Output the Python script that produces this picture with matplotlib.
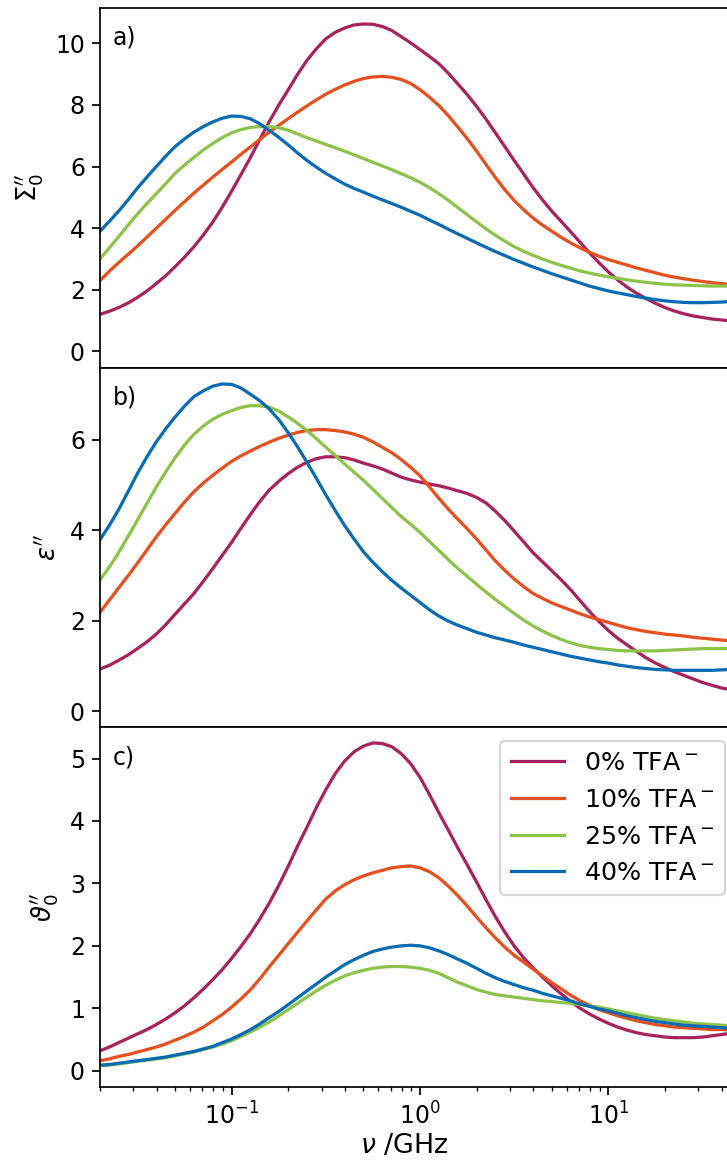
import numpy as np
import matplotlib
matplotlib.use('Agg')
import matplotlib.pyplot as plt

plt.rcParams['font.size'] = 11

# frequency grid (GHz), 20 points per decade
nu = [0.0200, 0.0224, 0.0251, 0.0282, 0.0316, 0.0355, 0.0398, 0.0447, 0.0501, 0.0562,
      0.0631, 0.0708, 0.0794, 0.0891, 0.100, 0.112, 0.126, 0.141, 0.158, 0.178,
      0.200, 0.224, 0.251, 0.282, 0.316, 0.355, 0.398, 0.447, 0.501, 0.562,
      0.631, 0.708, 0.794, 0.891, 1.00, 1.12, 1.26, 1.41, 1.58, 1.78,
      2.00, 2.24, 2.51, 2.82, 3.16, 3.55, 3.98, 4.47, 5.01, 5.62,
      6.31, 7.08, 7.94, 8.91, 10.0, 11.2, 12.6, 14.1, 15.8, 17.8,
      20.0, 22.4, 25.1, 28.2, 31.6, 35.5, 39.8, 44.7, 50.1]

labels = [r'0% TFA$^-$', r'10% TFA$^-$', r'25% TFA$^-$', r'40% TFA$^-$']
colors = ['#A8235E', '#E6501E', '#8CC34A', '#0A6BB5']

# a) Sigma_0''
sig_0 = [1.20, 1.30, 1.42, 1.57, 1.75, 1.96, 2.20, 2.46, 2.75, 3.06,
         3.40, 3.78, 4.20, 4.68, 5.20, 5.74, 6.30, 6.88, 7.45, 8.00,
         8.50, 9.00, 9.45, 9.83, 10.15, 10.36, 10.50, 10.60, 10.63, 10.62,
         10.55, 10.42, 10.22, 10.02, 9.80, 9.58, 9.34, 9.04, 8.70, 8.34,
         7.95, 7.54, 7.10, 6.65, 6.20, 5.76, 5.32, 4.92, 4.55, 4.22,
         3.88, 3.54, 3.20, 2.88, 2.58, 2.32, 2.08, 1.89, 1.72, 1.56,
         1.42, 1.31, 1.22, 1.15, 1.10, 1.05, 1.02, 0.99, 0.97]
sig_10 = [2.30, 2.60, 2.88, 3.15, 3.42, 3.71, 4.00, 4.29, 4.58, 4.86,
          5.14, 5.40, 5.66, 5.91, 6.15, 6.40, 6.64, 6.88, 7.12, 7.34,
          7.56, 7.77, 7.97, 8.17, 8.35, 8.51, 8.65, 8.77, 8.86, 8.91,
          8.93, 8.90, 8.83, 8.70, 8.50, 8.26, 7.98, 7.66, 7.30, 6.91,
          6.50, 6.07, 5.65, 5.25, 4.90, 4.60, 4.33, 4.10, 3.90, 3.70,
          3.52, 3.36, 3.22, 3.09, 2.98, 2.89, 2.80, 2.71, 2.63, 2.55,
          2.47, 2.41, 2.36, 2.31, 2.27, 2.23, 2.20, 2.17, 2.15]
sig_25 = [3.00, 3.36, 3.72, 4.10, 4.46, 4.80, 5.12, 5.45, 5.78, 6.05,
          6.30, 6.54, 6.75, 6.94, 7.10, 7.20, 7.27, 7.30, 7.30, 7.26,
          7.18, 7.06, 6.94, 6.83, 6.72, 6.61, 6.50, 6.38, 6.26, 6.14,
          6.02, 5.90, 5.77, 5.64, 5.49, 5.32, 5.12, 4.91, 4.68, 4.44,
          4.20, 3.98, 3.77, 3.58, 3.40, 3.25, 3.12, 3.00, 2.89, 2.79,
          2.70, 2.61, 2.54, 2.48, 2.42, 2.37, 2.32, 2.28, 2.24, 2.21,
          2.18, 2.16, 2.15, 2.14, 2.13, 2.12, 2.12, 2.12, 2.12]
sig_40 = [3.90, 4.22, 4.55, 4.92, 5.30, 5.66, 6.00, 6.34, 6.65, 6.90,
          7.12, 7.30, 7.45, 7.57, 7.64, 7.63, 7.55, 7.39, 7.18, 6.95,
          6.70, 6.44, 6.20, 5.98, 5.78, 5.60, 5.43, 5.29, 5.17, 5.04,
          4.92, 4.80, 4.68, 4.55, 4.42, 4.27, 4.12, 3.97, 3.82, 3.67,
          3.52, 3.38, 3.24, 3.11, 2.98, 2.86, 2.74, 2.63, 2.52, 2.42,
          2.32, 2.22, 2.12, 2.04, 1.96, 1.90, 1.84, 1.78, 1.73, 1.68,
          1.64, 1.61, 1.59, 1.58, 1.58, 1.59, 1.60, 1.62, 1.63]

# b) epsilon''
eps_0 = [0.93, 1.01, 1.12, 1.24, 1.38, 1.53, 1.70, 1.91, 2.14, 2.37,
         2.60, 2.87, 3.15, 3.44, 3.73, 4.04, 4.35, 4.63, 4.88, 5.08,
         5.25, 5.39, 5.50, 5.58, 5.62, 5.62, 5.60, 5.55, 5.48, 5.42,
         5.35, 5.26, 5.17, 5.11, 5.06, 5.02, 4.98, 4.93, 4.87, 4.81,
         4.72, 4.60, 4.42, 4.21, 3.98, 3.74, 3.50, 3.30, 3.10, 2.90,
         2.68, 2.44, 2.20, 1.98, 1.78, 1.61, 1.46, 1.32, 1.18, 1.06,
         0.96, 0.87, 0.79, 0.71, 0.63, 0.57, 0.51, 0.47, 0.43]
eps_10 = [2.18, 2.45, 2.72, 2.99, 3.27, 3.56, 3.85, 4.12, 4.37, 4.62,
          4.85, 5.04, 5.21, 5.37, 5.52, 5.64, 5.75, 5.85, 5.94, 6.03,
          6.10, 6.16, 6.20, 6.22, 6.22, 6.20, 6.17, 6.12, 6.05, 5.95,
          5.83, 5.71, 5.56, 5.39, 5.20, 4.96, 4.70, 4.47, 4.25, 4.03,
          3.80, 3.56, 3.32, 3.11, 2.92, 2.75, 2.60, 2.49, 2.39, 2.31,
          2.23, 2.15, 2.08, 2.02, 1.96, 1.90, 1.84, 1.80, 1.76, 1.73,
          1.70, 1.68, 1.66, 1.63, 1.61, 1.59, 1.57, 1.55, 1.53]
eps_25 = [2.90, 3.18, 3.50, 3.86, 4.22, 4.59, 4.95, 5.29, 5.60, 5.88,
          6.12, 6.30, 6.45, 6.56, 6.64, 6.71, 6.75, 6.75, 6.72, 6.63,
          6.50, 6.36, 6.20, 6.02, 5.83, 5.65, 5.46, 5.28, 5.10, 4.90,
          4.70, 4.50, 4.30, 4.13, 3.95, 3.75, 3.55, 3.35, 3.16, 2.98,
          2.80, 2.63, 2.47, 2.31, 2.16, 2.01, 1.88, 1.77, 1.67, 1.58,
          1.51, 1.45, 1.41, 1.38, 1.36, 1.34, 1.33, 1.33, 1.33, 1.33,
          1.34, 1.35, 1.36, 1.37, 1.38, 1.38, 1.38, 1.38, 1.38]
eps_40 = [3.79, 4.10, 4.45, 4.85, 5.25, 5.62, 5.95, 6.24, 6.50, 6.74,
          6.95, 7.08, 7.18, 7.23, 7.22, 7.14, 7.00, 6.86, 6.68, 6.44,
          6.15, 5.84, 5.50, 5.14, 4.78, 4.43, 4.10, 3.80, 3.52, 3.29,
          3.08, 2.89, 2.72, 2.56, 2.40, 2.24, 2.10, 1.99, 1.90, 1.82,
          1.74, 1.68, 1.62, 1.57, 1.52, 1.46, 1.41, 1.36, 1.31, 1.26,
          1.21, 1.17, 1.13, 1.09, 1.06, 1.02, 0.99, 0.96, 0.94, 0.92,
          0.91, 0.90, 0.90, 0.90, 0.90, 0.90, 0.91, 0.92, 0.93]

# c) theta_0''
th_0 = [0.32, 0.38, 0.45, 0.52, 0.59, 0.66, 0.74, 0.83, 0.93, 1.04,
        1.17, 1.31, 1.46, 1.62, 1.80, 1.99, 2.20, 2.43, 2.68, 2.97,
        3.28, 3.60, 3.90, 4.22, 4.50, 4.76, 4.96, 5.11, 5.20, 5.25,
        5.24, 5.19, 5.08, 4.92, 4.70, 4.43, 4.13, 3.86, 3.58, 3.30,
        3.02, 2.74, 2.47, 2.22, 2.00, 1.81, 1.65, 1.50, 1.36, 1.23,
        1.11, 1.00, 0.91, 0.83, 0.76, 0.70, 0.65, 0.61, 0.58, 0.56,
        0.54, 0.53, 0.53, 0.53, 0.54, 0.56, 0.58, 0.60, 0.63]
th_10 = [0.16, 0.19, 0.23, 0.26, 0.30, 0.34, 0.38, 0.43, 0.49, 0.55,
         0.62, 0.70, 0.80, 0.90, 1.02, 1.15, 1.30, 1.47, 1.66, 1.85,
         2.04, 2.22, 2.40, 2.58, 2.75, 2.88, 2.98, 3.06, 3.12, 3.17,
         3.21, 3.25, 3.27, 3.28, 3.25, 3.19, 3.09, 2.96, 2.81, 2.64,
         2.46, 2.29, 2.13, 1.98, 1.85, 1.74, 1.63, 1.52, 1.41, 1.31,
         1.21, 1.12, 1.05, 0.98, 0.93, 0.88, 0.84, 0.80, 0.77, 0.74,
         0.72, 0.70, 0.69, 0.68, 0.67, 0.66, 0.66, 0.65, 0.65]
th_25 = [0.08, 0.09, 0.11, 0.13, 0.15, 0.17, 0.19, 0.21, 0.24, 0.27,
         0.30, 0.34, 0.38, 0.43, 0.48, 0.55, 0.62, 0.70, 0.78, 0.88,
         0.98, 1.08, 1.18, 1.28, 1.37, 1.45, 1.52, 1.57, 1.61, 1.64,
         1.66, 1.67, 1.67, 1.66, 1.64, 1.61, 1.56, 1.49, 1.42, 1.36,
         1.30, 1.26, 1.22, 1.20, 1.18, 1.16, 1.14, 1.12, 1.11, 1.09,
         1.08, 1.06, 1.04, 1.02, 0.99, 0.96, 0.93, 0.90, 0.87, 0.84,
         0.82, 0.80, 0.78, 0.76, 0.75, 0.74, 0.73, 0.72, 0.71]
th_40 = [0.09, 0.10, 0.12, 0.14, 0.16, 0.18, 0.20, 0.22, 0.25, 0.28,
         0.31, 0.35, 0.39, 0.45, 0.51, 0.58, 0.66, 0.75, 0.85, 0.95,
         1.06, 1.17, 1.28, 1.39, 1.50, 1.60, 1.70, 1.78, 1.85, 1.91,
         1.95, 1.98, 2.00, 2.01, 2.00, 1.97, 1.92, 1.86, 1.79, 1.72,
         1.64, 1.56, 1.49, 1.43, 1.38, 1.33, 1.29, 1.24, 1.20, 1.16,
         1.12, 1.07, 1.03, 0.99, 0.96, 0.92, 0.88, 0.85, 0.82, 0.79,
         0.77, 0.75, 0.73, 0.72, 0.71, 0.70, 0.69, 0.68, 0.68]

panels = [
    (r"$\Sigma_0''$", [sig_0, sig_10, sig_25, sig_40], (-0.53, 11.15), [0, 2, 4, 6, 8, 10], 'a)'),
    (r"$\epsilon''$", [eps_0, eps_10, eps_25, eps_40], (-0.36, 7.59), [0, 2, 4, 6], 'b)'),
    (r"$\vartheta_0''$", [th_0, th_10, th_25, th_40], (-0.26, 5.50), [0, 1, 2, 3, 4, 5], 'c)'),
]

dpi = 155
fig = plt.figure(figsize=(728 / dpi, 1160 / dpi), dpi=dpi)

left = 100 / 728
width = 640 / 728
bottom = 1 - 1087 / 1160
h = (1087 - 8) / 1160 / 3

axes = []
for i, (ylab, series, ylim, yticks, tag) in enumerate(panels):
    ax = fig.add_axes([left, bottom + (2 - i) * h, width, h])
    for y, c, lab in zip(series, colors, labels):
        ax.plot(nu, y, color=c, lw=1.5, label=lab)
    ax.set_xscale('log')
    ax.set_xlim(0.02, 50)
    ax.set_ylim(*ylim)
    ax.set_yticks(yticks)
    ax.set_ylabel(ylab, fontsize=12)
    ax.text(0.02, 0.95, tag, transform=ax.transAxes, va='top', ha='left')
    if i < 2:
        ax.tick_params(axis='x', which='both', bottom=False, labelbottom=False)
    axes.append(ax)

axes[2].set_xlabel(r'$\nu$ /GHz', fontsize=12.5)
axes[2].xaxis.set_label_coords(0.475, -0.128)
axes[2].legend(loc='upper right', bbox_to_anchor=(725 / 728, 1 - 741 / 1160),
               bbox_transform=fig.transFigure, borderaxespad=0,
               fontsize=11.8, handlelength=2.1)

fig.align_ylabels(axes)

fig.savefig('out.png', dpi=dpi)
